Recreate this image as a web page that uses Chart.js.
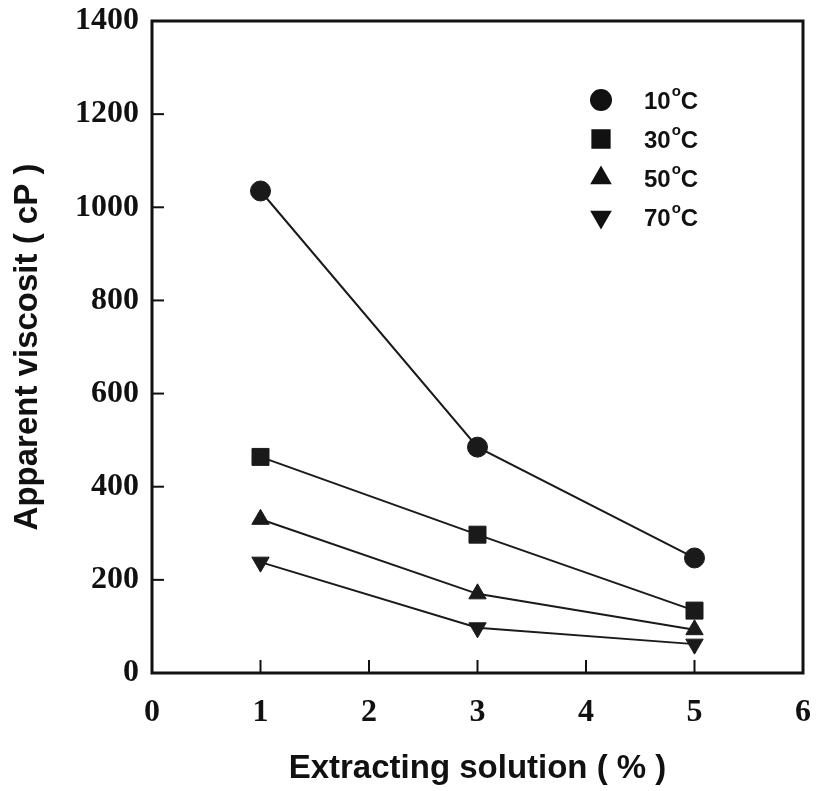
<!DOCTYPE html>
<html>
<head>
<meta charset="utf-8">
<script src="https://cdn.jsdelivr.net/npm/chart.js@4"></script>
<style>
  html, body { margin: 0; padding: 0; background: #fff; }
  #wrap { width: 816px; height: 791px; }
</style>
</head>
<body>
<div id="wrap"><canvas id="chart" width="816" height="791"></canvas></div>
<script>
// data
var concentration = [1, 3, 5];
var temperatures = ['10', '30', '50', '70'];
var visc10 = [1035, 485, 247];
var visc30 = [464, 297, 134];
var visc50 = [330, 170, 93];
var visc70 = [238, 97, 62];
var xTicks = [0, 1, 2, 3, 4, 5, 6];
var yTicks = [0, 200, 400, 600, 800, 1000, 1200, 1400];

var markers = ['circle', 'rect', 'triangle', 'triangle'];
var rotations = [0, 0, 0, 180];
var seriesValues = [visc10, visc30, visc50, visc70];

function toPoints(ys) {
    return concentration.map(function (x, i) { return { x: x, y: ys[i] }; });
}

var datasets = temperatures.map(function (t, i) {
    return {
        label: t,
        data: toPoints(seriesValues[i]),
        borderColor: '#1a1a1a',
        backgroundColor: '#1a1a1a',
        borderWidth: 2,
        pointStyle: markers[i],
        rotation: rotations[i],
        pointRadius: markers[i] === 'rect' ? 12 : 10,
        pointBorderWidth: 1,
        showLine: true,
        tension: 0
    };
});

// inward ticks, frame and legend
var framePlugin = {
    id: 'frame',
    afterDatasetsDraw: function (chart) {
        var ctx = chart.ctx;
        var a = chart.chartArea;
        var xs = chart.scales.x, ys = chart.scales.y;
        ctx.save();
        ctx.strokeStyle = '#111';
        ctx.lineWidth = 2;
        xTicks.forEach(function (v) {
            var px = xs.getPixelForValue(v);
            ctx.beginPath();
            ctx.moveTo(px, a.bottom);
            ctx.lineTo(px, a.bottom - 13);
            ctx.stroke();
        });
        yTicks.forEach(function (v) {
            var py = ys.getPixelForValue(v);
            ctx.beginPath();
            ctx.moveTo(a.left, py);
            ctx.lineTo(a.left + 12, py);
            ctx.stroke();
        });
        ctx.lineWidth = 3;
        ctx.strokeRect(a.left, a.top, a.right - a.left, a.bottom - a.top);

        // legend
        var lx = a.left + 449, ly = a.top + 79, gap = 39;
        chart.data.datasets.forEach(function (ds, i) {
            var y = ly + i * gap;
            Chart.helpers.drawPoint(ctx, {
                pointStyle: ds.pointStyle,
                rotation: ds.rotation,
                radius: ds.pointRadius - 0.5,
                borderWidth: 1
            }, lx, y);
            ctx.fillStyle = '#111';
            ctx.strokeStyle = '#111';
            ctx.fill();
            ctx.font = 'bold 24px "Liberation Sans", Arial, sans-serif';
            ctx.textBaseline = 'middle';
            ctx.textAlign = 'left';
            var tx = lx + 43;
            ctx.fillText(ds.label, tx, y + 2);
            var w = ctx.measureText(ds.label).width;
            ctx.font = 'bold 15px "Liberation Sans", Arial, sans-serif';
            ctx.fillText('o', tx + w + 1, y - 8);
            ctx.font = 'bold 24px "Liberation Sans", Arial, sans-serif';
            ctx.fillText('C', tx + w + 10, y + 2);
        });
        ctx.restore();
    }
};

new Chart(document.getElementById('chart'), {
    type: 'scatter',
    data: { datasets: datasets },
    plugins: [framePlugin],
    options: {
        responsive: false,
        animation: false,
        layout: { padding: { left: 8, right: 12, top: 21, bottom: 2 } },
        plugins: {
            legend: { display: false },
            tooltip: { enabled: false }
        },
        scales: {
            x: {
                type: 'linear',
                min: 0,
                max: 6,
                afterBuildTicks: function (s) { s.ticks = xTicks.map(function (v) { return { value: v }; }); },
                grid: { display: false, drawTicks: false },
                border: { display: false },
                ticks: {
                    color: '#111',
                    padding: 21,
                    callback: function (v) { return String(v); },
                    font: { family: '"Liberation Serif", "Times New Roman", serif', size: 32, weight: 'bold' }
                },
                title: {
                    display: true,
                    text: 'Extracting solution ( % )',
                    color: '#111',
                    padding: 0,
                    font: { family: '"Liberation Sans", Arial, sans-serif', size: 33, weight: 'bold' }
                },
                afterFit: function (s) {
                    s.height = 791 - 673 - 2;
                    s.paddingLeft = 0;
                    s.paddingRight = 0;
                }
            },
            y: {
                type: 'linear',
                min: 0,
                max: 1400,
                afterBuildTicks: function (s) { s.ticks = yTicks.map(function (v) { return { value: v }; }); },
                grid: { display: false, drawTicks: false },
                border: { display: false },
                ticks: {
                    color: '#111',
                    padding: 13,
                    callback: function (v) { return String(v); },
                    font: { family: '"Liberation Serif", "Times New Roman", serif', size: 32, weight: 'bold' }
                },
                title: {
                    display: true,
                    text: 'Apparent viscosit ( cP )',
                    color: '#111',
                    padding: 0,
                    font: { family: '"Liberation Sans", Arial, sans-serif', size: 33, weight: 'bold' }
                },
                afterFit: function (s) {
                    s.width = 152 - 8;
                    s.paddingTop = 0;
                    s.paddingBottom = 0;
                }
            }
        }
    }
});
</script>
</body>
</html>
